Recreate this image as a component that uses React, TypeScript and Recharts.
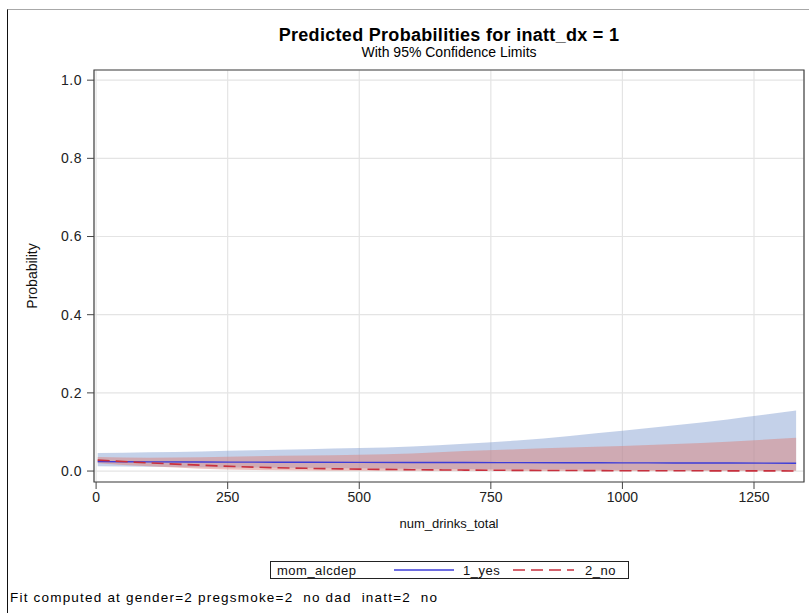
import React from 'react';
import {
  ComposedChart, Area, Line, XAxis, YAxis, CartesianGrid, ReferenceArea,
} from 'recharts';

// Predicted probability curves with 95% confidence bands
const drinks = [3, 100, 200, 300, 400, 500, 600, 700, 800, 900, 1000, 1100, 1200, 1330];

// mom_alcdep = 1_yes
const yesProb = [0.024, 0.0235, 0.023, 0.0228, 0.0225, 0.0222, 0.022, 0.0218, 0.0215, 0.0212, 0.021, 0.0207, 0.0205, 0.02];
const yesLower = [0.012, 0.011, 0.01, 0.009, 0.008, 0.007, 0.006, 0.005, 0.004, 0.004, 0.003, 0.003, 0.002, 0.002];
const yesUpper = [0.046, 0.048, 0.05, 0.053, 0.056, 0.059, 0.063, 0.07, 0.078, 0.09, 0.103, 0.117, 0.132, 0.155];

// mom_alcdep = 2_no
const noProb = [0.028, 0.021, 0.015, 0.01, 0.007, 0.005, 0.0035, 0.0025, 0.0018, 0.0013, 0.0009, 0.0007, 0.0005, 0.0003];
const noLower = [0.02, 0.012, 0.006, 0.003, 0.0015, 0.001, 0.0007, 0.0005, 0.0003, 0.0002, 0.0001, 0.0001, 0, 0];
const noUpper = [0.036, 0.034, 0.035, 0.038, 0.04, 0.042, 0.045, 0.051, 0.056, 0.06, 0.064, 0.069, 0.075, 0.085];

const xTicks = [0, 250, 500, 750, 1000, 1250];
const yTicks = [0, 0.2, 0.4, 0.6, 0.8, 1.0];

const data = drinks.map((x, i) => ({
  x,
  yes: yesProb[i],
  yesBand: [yesLower[i], yesUpper[i]],
  no: noProb[i],
  noBand: [noLower[i], noUpper[i]],
}));

const FONT = '"Liberation Sans", Arial, sans-serif';
const BLUE = '#3c3cd8';
const RED = '#c8303e';

// legend drawn as its own little svg box under the x axis label
function LegendBox() {
  const txt = { fontFamily: FONT, fontSize: 13, fill: '#111', letterSpacing: 0.5 };
  return (
    <svg width={360} height={19} style={{ position: 'absolute', left: 270, top: 561 }}>
      <rect x={0.5} y={0.5} width={358} height={17} fill="#fff" stroke="#222" />
      <text x={7} y={13.5} style={txt}>mom_alcdep</text>
      <line x1={124} y1={9} x2={184} y2={9} stroke={BLUE} strokeWidth={1.3} />
      <text x={193} y={13.5} style={txt}>1_yes</text>
      <line x1={243} y1={9} x2={304} y2={9} stroke={RED} strokeWidth={1.3} strokeDasharray="12 6" />
      <text x={315} y={13.5} style={txt}>2_no</text>
    </svg>
  );
}

export default function App() {
  return (
    <div style={{ position: 'absolute', left: 0, top: 0, width: 809, height: 613, background: '#fff' }}>
      <div style={{
        position: 'absolute', left: 7, top: 9, right: 0, bottom: 0,
        borderLeft: '1.5px solid #111', borderTop: '1px solid #a8a8a8',
      }} />
      <div style={{
        position: 'absolute', left: 94, width: 710, top: 25, textAlign: 'center',
        fontFamily: FONT, fontWeight: 'bold', fontSize: 18, color: '#000', lineHeight: '20px', letterSpacing: 0.3,
      }}>
        Predicted Probabilities for inatt_dx = 1
      </div>
      <div style={{
        position: 'absolute', left: 94, width: 710, top: 44, textAlign: 'center',
        fontFamily: FONT, fontSize: 14, color: '#000', lineHeight: '16px',
      }}>
        With 95% Confidence Limits
      </div>
      <ComposedChart
        width={809}
        height={613}
        data={data}
        margin={{ top: 70, right: 5, left: 34, bottom: 71 }}
        style={{ position: 'absolute', left: 0, top: 0 }}
      >
        <CartesianGrid stroke="#e4e4e4" strokeWidth={1.2} />
        <XAxis
          dataKey="x"
          type="number"
          domain={[-4, 1345]}
          ticks={xTicks}
          allowDataOverflow
          tick={{ fontFamily: FONT, fontSize: 14, fill: '#222' }}
          tickLine={{ stroke: '#444' }}
          axisLine={false}
          tickSize={7}
          tickMargin={3}
          height={60}
          label={{ value: 'num_drinks_total', position: 'insideTop', offset: 37, fontFamily: FONT, fontSize: 13, fill: '#111' }}
        />
        <YAxis
          type="number"
          domain={[-0.028, 1.026]}
          ticks={yTicks}
          allowDataOverflow
          tickFormatter={(v: number) => v.toFixed(1)}
          tick={{ fontFamily: FONT, fontSize: 14, fill: '#222', letterSpacing: 0.5 }}
          tickLine={{ stroke: '#444' }}
          axisLine={false}
          tickSize={7}
          tickMargin={5}
          width={60}
          label={{ value: 'Probability', angle: -90, position: 'insideLeft', offset: 0, dx: -2, fontFamily: FONT, fontSize: 14, fill: '#111', style: { textAnchor: 'middle' } }}
        />
        <Area dataKey="yesBand" type="monotone" stroke="none" fill="#7c98cf" fillOpacity={0.45} isAnimationActive={false} />
        <Area dataKey="noBand" type="monotone" stroke="none" fill="#da837d" fillOpacity={0.5} isAnimationActive={false} />
        <Line dataKey="yes" name="1_yes" type="monotone" stroke={BLUE} strokeWidth={1.4} dot={false} isAnimationActive={false} />
        <Line dataKey="no" name="2_no" type="monotone" stroke={RED} strokeWidth={1.6} strokeDasharray="12 6" dot={false} isAnimationActive={false} />
        <ReferenceArea x1={-4} x2={1345} y1={-0.028} y2={1.026} fill="none" stroke="#444" strokeWidth={1.2} />
      </ComposedChart>
      <LegendBox />
      <div style={{
        position: 'absolute', left: 10, top: 590, fontFamily: FONT, fontSize: 13.5, color: '#000',
        whiteSpace: 'pre', letterSpacing: 1.2, lineHeight: '15px',
      }}>
        {'Fit computed at gender=2 pregsmoke=2  no dad  inatt=2  no'}
      </div>
    </div>
  );
}
